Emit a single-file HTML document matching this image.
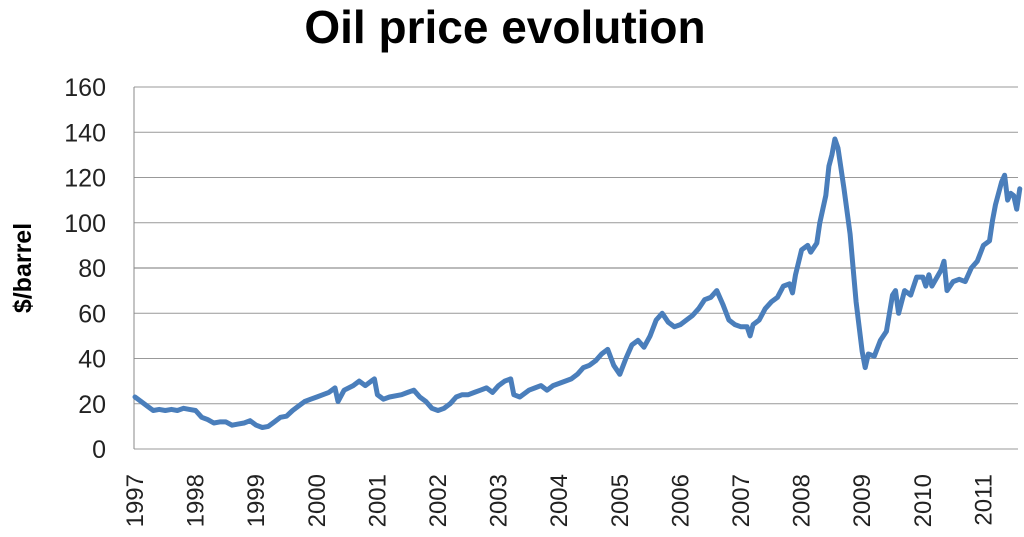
<!DOCTYPE html>
<html><head><meta charset="utf-8"><style>
body{margin:0;background:#fff;}
svg{display:block;font-family:"Liberation Sans",sans-serif;}
</style></head><body>
<svg id="chart" width="1024" height="537" viewBox="0 0 1024 537">
<text x="505" y="43" text-anchor="middle" font-size="46" font-weight="bold" fill="#000">Oil price evolution</text>
<text transform="translate(31,268) rotate(-90)" text-anchor="middle" font-size="25" font-weight="bold" fill="#000">$/barrel</text>
<g id="grid"></g><g id="yticks"></g><g id="xticks"></g><g id="series"></g>
</svg>
<script>
const yTicks=[0,20,40,60,80,100,120,140,160];
const years=[1997,1998,1999,2000,2001,2002,2003,2004,2005,2006,2007,2008,2009,2010,2011];
const dates=[1997.0,1997.1,1997.2,1997.3,1997.4,1997.5,1997.6,1997.7,1997.8,1997.9,1998.0,1998.1,1998.2,1998.3,1998.4,1998.5,1998.6,1998.7,1998.8,1998.9,1999.0,1999.1,1999.2,1999.3,1999.4,1999.5,1999.6,1999.7,1999.8,1999.9,2000.0,2000.1,2000.2,2000.3,2000.35,2000.45,2000.6,2000.7,2000.8,2000.9,2000.95,2001.0,2001.1,2001.2,2001.4,2001.5,2001.6,2001.7,2001.8,2001.9,2002.0,2002.1,2002.2,2002.3,2002.4,2002.5,2002.6,2002.7,2002.8,2002.9,2003.0,2003.1,2003.2,2003.25,2003.35,2003.5,2003.6,2003.7,2003.8,2003.9,2004.0,2004.1,2004.2,2004.3,2004.4,2004.5,2004.6,2004.7,2004.8,2004.9,2005.0,2005.1,2005.2,2005.3,2005.4,2005.5,2005.6,2005.7,2005.8,2005.9,2006.0,2006.1,2006.2,2006.3,2006.4,2006.5,2006.6,2006.7,2006.8,2006.9,2007.0,2007.1,2007.15,2007.2,2007.3,2007.4,2007.5,2007.6,2007.7,2007.8,2007.85,2007.9,2008.0,2008.1,2008.15,2008.25,2008.3,2008.4,2008.45,2008.5,2008.55,2008.6,2008.7,2008.8,2008.9,2009.0,2009.05,2009.1,2009.2,2009.3,2009.4,2009.5,2009.55,2009.6,2009.7,2009.8,2009.9,2010.0,2010.05,2010.1,2010.15,2010.3,2010.35,2010.4,2010.5,2010.6,2010.7,2010.8,2010.9,2011.0,2011.1,2011.15,2011.2,2011.3,2011.35,2011.4,2011.45,2011.5,2011.55,2011.6];
const prices=[23,21,19,17,17.5,17,17.5,17,18,17.5,17,14,13,11.5,12,12,10.5,11,11.5,12.5,10.5,9.5,10,12,14,14.5,17,19,21,22,23,24,25,27,21,26,28,30,28,30,31,24,22,23,24,25,26,23,21,18,17,18,20,23,24,24,25,26,27,25,28,30,31,24,23,26,27,28,26,28,29,30,31,33,36,37,39,42,44,37,33,40,46,48,45,50,57,60,56,54,55,57,59,62,66,67,70,64,57,55,54,54,50,55,57,62,65,67,72,73,69,77,88,90,87,91,100,112,125,130,137,133,115,95,65,43,36,42,41,48,52,68,70,60,70,68,76,76,72,77,72,79,83,70,74,75,74,80,83,90,92,101,108,118,121,110,113,112,106,115];
const NS="http://www.w3.org/2000/svg";
const X0=134,X1=1018,Y0=449,Y1=87;
const yS=v=>Y0-(v/160)*(Y0-Y1);
const xS=d=>135+(d-1997)*60.6;
function mk(t,a,p){const e=document.createElementNS(NS,t);for(const k in a)e.setAttribute(k,a[k]);p.appendChild(e);return e;}
const grid=document.getElementById('grid'),yt=document.getElementById('yticks'),xt=document.getElementById('xticks'),ser=document.getElementById('series');
yTicks.forEach(v=>{
  const l=mk('line',{x1:X0,x2:X1,y1:yS(v),y2:yS(v),stroke:v===80?'#777':'#999','stroke-width':1},grid);
  
  
  const t=mk('text',{x:106,y:yS(v)+9,'text-anchor':'end','font-size':25,fill:'#222'},yt);
  t.textContent=v;
  
  
});
const ax=mk('line',{x1:X0,x2:X0,y1:Y1,y2:Y0,stroke:'#888','stroke-width':1},grid);


years.forEach(y=>{
  const t=mk('text',{transform:`translate(${xS(y)+8},474) rotate(-90)`,'text-anchor':'end','font-size':24,fill:'#222'},xt);
  t.textContent=y;
  
  
});
const pts=dates.map((d,i)=>xS(d).toFixed(1)+','+yS(prices[i]).toFixed(1)).join(' ');
const pl=mk('polyline',{points:pts,fill:'none',stroke:'#4a7ebb','stroke-width':5,'stroke-linejoin':'round','stroke-linecap':'round'},ser);


</script>
</body></html>
